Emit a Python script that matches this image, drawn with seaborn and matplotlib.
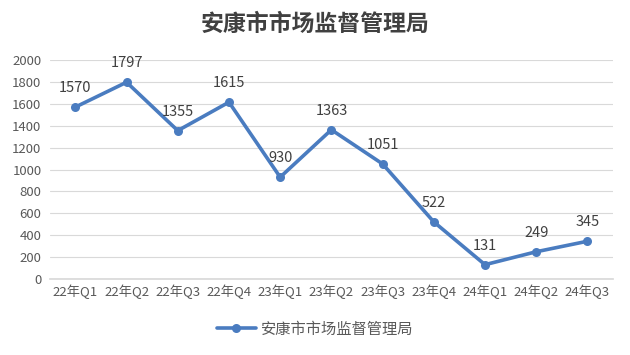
import matplotlib
matplotlib.use("Agg")
import matplotlib.pyplot as plt
import seaborn as sns
import pandas as pd

categories = ["22年Q1", "22年Q2", "22年Q3", "22年Q4", "23年Q1", "23年Q2",
              "23年Q3", "23年Q4", "24年Q1", "24年Q2", "24年Q3"]
values = [1570, 1797, 1355, 1615, 930, 1363, 1051, 522, 131, 249, 345]
series_name = "安康市市场监督管理局"
yticks = [0, 200, 400, 600, 800, 1000, 1200, 1400, 1600, 1800, 2000]

sns.set_theme(style="white")
plt.rcParams['font.family'] = ['Noto Sans CJK SC', 'DejaVu Sans']

df = pd.DataFrame({"cat": categories, "val": values, "series": series_name})
df["x"] = range(len(categories))

fig = plt.figure(figsize=(6.3, 3.55), dpi=100)
ax = fig.add_axes([0.079, 0.214, 0.894, 0.617])
color = "#4A7CC0"
sns.lineplot(data=df, x="x", y="val", hue="series", palette=[color], ax=ax,
             marker="o", markersize=6.5, linewidth=2.6, markeredgewidth=0)

for xi, v in zip(df["x"], values):
    ax.annotate(str(v), (xi, v), textcoords="offset points", xytext=(0, 8.5),
                ha="center", va="bottom", fontsize=10.5, color="#404040")

ax.set_xlim(-0.5, len(categories) - 0.5)
ax.set_ylim(0, 2000)
ax.set_yticks(yticks)
ax.set_yticklabels([str(t) for t in yticks], fontsize=9.5, color="#595959")
ax.set_xticks(df["x"])
ax.set_xticklabels(categories, fontsize=9.5, color="#595959")
ax.tick_params(axis="both", length=0, pad=4)
ax.tick_params(axis="y", pad=6)
ax.grid(axis="y", color="#d9d9d9", linewidth=0.8)
ax.set_axisbelow(True)
for s in ["top", "right", "left"]:
    ax.spines[s].set_visible(False)
ax.spines["bottom"].set_color("#d9d9d9")
ax.set_xlabel("")
ax.set_ylabel("")

ax.legend_.remove()
handles, labels = ax.get_legend_handles_labels()
fig.legend(handles, labels, loc="center", bbox_to_anchor=(0.5, 0.073), frameon=False,
           fontsize=11, handlelength=2.6, handletextpad=0.3, labelcolor="#595959")

fig.suptitle(series_name, y=0.965, fontsize=16.5, fontweight="bold", color="#404040")

fig.savefig("out.png", dpi=100)
